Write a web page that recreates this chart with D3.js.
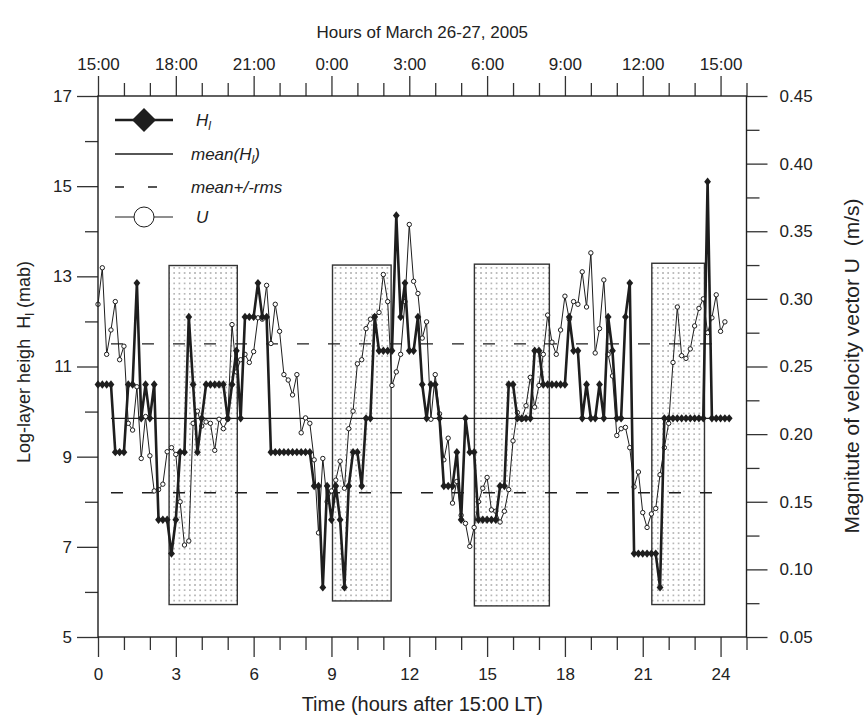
<!DOCTYPE html>
<html><head><meta charset="utf-8">
<script src="https://cdn.jsdelivr.net/npm/d3@7/dist/d3.min.js"></script>
<style>
body{margin:0;background:#fff;}
svg{display:block;}
text{font-family:"Liberation Sans",Arial,Helvetica,sans-serif;fill:#222;}
</style>
</head><body>
<svg id="chart" width="865" height="718"></svg>
<script>
// ---------- data ----------
const stepHours = 1/6;           // 10-minute sampling
const bottomTicks = [0,3,6,9,12,15,18,21,24];
const topTickLabels = ["15:00","18:00","21:00","0:00","3:00","6:00","9:00","12:00","15:00"];
const leftTicks = [5,7,9,11,13,15,17];
const rightTicks = [0.05,0.10,0.15,0.20,0.25,0.30,0.35,0.40,0.45];

// log-layer height H_l (mab), one value per 10 min
const H = [
10.6,10.6,10.6,10.6, 9.1,9.1,9.1, 10.6,10.6, 12.85, 9.85, 10.6, 9.85, 10.6,
7.6,7.6,7.6, 6.85, 7.6, 9.1,9.1, 12.1, 10.6, 9.1, 9.85,
10.6,10.6,10.6,10.6,10.6, 9.85, 10.6, 11.35, 9.85, 12.1,12.1,12.1, 12.85, 12.1,12.1,
9.1,9.1,9.1,9.1,9.1,9.1,9.1,9.1,9.1,9.1,
8.35,8.35, 6.1, 8.35, 7.6, 8.35, 7.6, 6.1, 8.35, 9.1,9.1, 8.35, 9.85,9.85,
12.1, 11.35,11.35,11.35,11.35, 14.35, 12.1, 12.85, 11.35,11.35, 12.1, 10.6, 9.85, 10.6,10.6, 9.85,
8.35,8.35,8.35, 9.1, 7.6, 9.85, 9.1,9.1, 7.6,7.6,7.6,7.6,7.6, 8.35,8.35, 10.6,10.6,
9.85,9.85,9.85,9.85, 11.35,11.35, 10.6,10.6,10.6,10.6,10.6,10.6, 12.1, 11.35,11.35,
9.85, 10.6, 9.85,9.85, 10.6, 9.85, 12.1, 11.35, 9.85,9.85, 12.1, 12.85,
6.85,6.85,6.85,6.85,6.85,6.85, 6.1,
9.85,9.85,9.85,9.85,9.85,9.85,9.85,9.85,9.85,9.85, 15.1, 9.85,9.85,9.85,9.85,9.85
];

// magnitude of velocity vector U (m/s), one value per 10 min
const U = [
0.296,0.323,0.259,0.277,0.298,0.255,0.265,0.208,0.203,0.235,0.182,0.213,0.184,
0.158,0.159,0.163,0.187,0.190,0.185,0.150,0.118,0.121,
0.208,0.217,0.206,0.209,0.208,0.188,0.211,0.204,0.211,
0.281,0.246,0.255,0.259,0.253,0.261,0.286,0.285,0.310,0.267,0.296,0.276,
0.244,0.240,0.229,0.244,0.201,0.212,0.208,0.181,0.127,0.182,0.150,0.158,0.166,0.180,0.160,
0.204,0.217,0.252,0.255,0.278,0.285,0.287,0.290,0.318,0.298,0.236,0.246,0.259,0.298,
0.355,0.313,0.304,0.271,0.283,0.211,0.244,0.215,0.181,0.197,
0.149,0.165,0.140,0.134,0.117,0.131,0.150,0.160,0.168,0.144,0.143,0.135,0.143,0.159,
0.195,0.216,0.211,0.221,0.242,0.220,0.236,0.259,0.288,0.268,0.259,0.277,0.302,0.285,
0.298,0.296,0.320,0.294,0.334,0.260,0.278,0.314,0.259,0.243,0.199,0.204,0.205,
0.190,0.161,0.172,0.142,0.131,0.141,0.145,0.170,0.190,0.208,0.253,0.294,0.258,0.256,
0.263,0.280,0.293,0.300,0.275,0.286,0.303,0.276,0.283
];

// shaded periods (hours, H_l units)
const boxStart  = [2.74, 9.04, 14.51, 21.35];
const boxEnd    = [5.37, 11.30, 17.40, 23.38];
const boxTop    = [13.24, 13.25, 13.27, 13.29];
const boxBottom = [5.72, 5.80, 5.69, 5.72];

const meanH = 9.85, rmsH = 1.65;
const refLineStart = 0.5, refLineEnd = 24;

// ---------- layout ----------
const L = 98, R = 746.5, T = 96, B = 637;
const svg = d3.select("#chart");
const x = d3.scaleLinear().domain([0,25]).range([L,R]);
const yL = d3.scaleLinear().domain([5,17]).range([B,T]);
const yR = d3.scaleLinear().domain([0.05,0.45]).range([B,T]);
const FS = 17;
const ink = "#1e1e1e";

// pattern for shaded boxes
const defs = svg.append("defs");
const pat = defs.append("pattern").attr("id","dots").attr("patternUnits","userSpaceOnUse")
  .attr("width",5.2).attr("height",5.2);
pat.append("rect").attr("width",5.2).attr("height",5.2).attr("fill","#fff");
pat.append("rect").attr("x",2).attr("y",2).attr("width",1.2).attr("height",1.2).attr("fill","#6a6a6a");

// boxes
svg.append("g").selectAll("rect").data(boxStart).join("rect")
  .attr("x",(d,i)=>x(boxStart[i]))
  .attr("y",(d,i)=>yL(boxTop[i]))
  .attr("width",(d,i)=>x(boxEnd[i])-x(boxStart[i]))
  .attr("height",(d,i)=>yL(boxBottom[i])-yL(boxTop[i]))
  .attr("fill","url(#dots)").attr("stroke","#333").attr("stroke-width",1.4);

// mean and +/- rms lines
const ref = svg.append("g");
ref.append("line").attr("x1",x(refLineStart)).attr("x2",x(refLineEnd))
  .attr("y1",yL(meanH)).attr("y2",yL(meanH)).attr("stroke",ink).attr("stroke-width",1.3);
[meanH+rmsH, meanH-rmsH].forEach(v=>{
  ref.append("line").attr("x1",x(refLineStart)).attr("x2",x(refLineEnd))
    .attr("y1",yL(v)).attr("y2",yL(v)).attr("stroke",ink).attr("stroke-width",1.3)
    .attr("stroke-dasharray","12,19");
});

// U series
const uLine = d3.line().x((d,i)=>x(i*stepHours)).y(d=>yR(d));
svg.append("path").datum(U).attr("d",uLine).attr("fill","none")
  .attr("stroke",ink).attr("stroke-width",1);
svg.append("g").selectAll("circle").data(U).join("circle")
  .attr("cx",(d,i)=>x(i*stepHours)).attr("cy",d=>yR(d)).attr("r",2.2)
  .attr("fill","#fff").attr("stroke",ink).attr("stroke-width",1);

// H series
const hLine = d3.line().x((d,i)=>x(i*stepHours)).y(d=>yL(d));
svg.append("path").datum(H).attr("d",hLine).attr("fill","none")
  .attr("stroke",ink).attr("stroke-width",2.6).attr("stroke-linejoin","round");
svg.append("g").selectAll("path").data(H).join("path")
  .attr("transform",(d,i)=>`translate(${x(i*stepHours)},${yL(d)})`)
  .attr("d","M0,-4.2L3.4,0L0,4.2L-3.4,0Z").attr("fill",ink);

// ---------- axes ----------
function styleAxis(g){
  g.select(".domain").remove();
  g.selectAll(".tick line").attr("stroke","#333").attr("stroke-width",1.3);
  g.selectAll(".tick text").attr("font-size",FS).attr("fill","#222")
    .attr("font-family",'"Liberation Sans",Arial,sans-serif');
}
const hourMinor = d3.range(0,26).filter(h=>!bottomTicks.includes(h));

svg.append("g").attr("transform",`translate(0,${B})`)
  .call(d3.axisBottom(x).tickValues(bottomTicks).tickSize(20).tickPadding(11).tickFormat(d3.format("d")))
  .call(styleAxis);
svg.append("g").attr("transform",`translate(0,${B})`)
  .call(d3.axisBottom(x).tickValues(hourMinor).tickSize(13).tickFormat(""))
  .call(styleAxis);

svg.append("g").attr("transform",`translate(0,${T})`)
  .call(d3.axisTop(x).tickValues(bottomTicks).tickSize(20).tickPadding(6)
    .tickFormat((d,i)=>topTickLabels[i]))
  .call(styleAxis);
svg.append("g").attr("transform",`translate(0,${T})`)
  .call(d3.axisTop(x).tickValues(hourMinor).tickSize(13).tickFormat(""))
  .call(styleAxis);

const leftMinor = d3.range(6,17,2);
svg.append("g").attr("transform",`translate(${L},0)`)
  .call(d3.axisLeft(yL).tickValues(leftTicks).tickSize(21).tickPadding(5).tickFormat(d3.format("d")))
  .call(styleAxis);
svg.append("g").attr("transform",`translate(${L},0)`)
  .call(d3.axisLeft(yL).tickValues(leftMinor).tickSize(13).tickFormat(""))
  .call(styleAxis);

const rightMinor = rightTicks.slice(0,-1).map(v=>v+0.025);
svg.append("g").attr("transform",`translate(${R},0)`)
  .call(d3.axisRight(yR).tickValues(rightTicks).tickSize(21).tickPadding(12).tickFormat(d3.format(".2f")))
  .call(styleAxis);
svg.append("g").attr("transform",`translate(${R},0)`)
  .call(d3.axisRight(yR).tickValues(rightMinor).tickSize(13).tickFormat(""))
  .call(styleAxis);

// frame
svg.append("rect").attr("x",L).attr("y",T).attr("width",R-L).attr("height",B-T)
  .attr("fill","none").attr("stroke",ink).attr("stroke-width",1.4);

// titles
svg.append("text").attr("x",(L+R)/2).attr("y",38).attr("text-anchor","middle")
  .attr("font-size",FS).text("Hours of March 26-27, 2005");
svg.append("text").attr("x",(L+R)/2).attr("y",711).attr("text-anchor","middle")
  .attr("font-size",20).text("Time (hours after 15:00 LT)");

const lt = svg.append("text").attr("transform","translate(30,362) rotate(-90)")
  .attr("text-anchor","middle").attr("font-size",18);
lt.append("tspan").text("Log-layer heigh\u00a0\u00a0H");
lt.append("tspan").attr("font-size",12.5).attr("dy",4).text("l");
lt.append("tspan").attr("dy",-4).text(" (mab)");

svg.append("text").attr("transform","translate(859,366) rotate(-90)")
  .attr("text-anchor","middle").attr("font-size",21)
  .text("Magnitute of velocity vector U\u00a0\u00a0(m/s)");

// ---------- legend ----------
const lg = svg.append("g");
const lx1 = 115, lx2 = 173, lcx = 144;
// H_l
lg.append("line").attr("x1",lx1).attr("x2",lx2).attr("y1",120).attr("y2",120)
  .attr("stroke",ink).attr("stroke-width",2.6);
lg.append("path").attr("transform",`translate(${lcx},120)`).attr("d","M0,-12L12,0L0,12L-12,0Z").attr("fill",ink);
const t1 = lg.append("text").attr("x",196).attr("y",126).attr("font-size",FS).attr("font-style","italic");
t1.append("tspan").text("H");
t1.append("tspan").attr("font-size",12).attr("dy",4).text("l");
// mean
lg.append("line").attr("x1",lx1).attr("x2",lx2).attr("y1",154).attr("y2",154)
  .attr("stroke",ink).attr("stroke-width",1.3);
const t2 = lg.append("text").attr("x",191).attr("y",160).attr("font-size",FS).attr("font-style","italic");
t2.append("tspan").text("mean(H");
t2.append("tspan").attr("font-size",12).attr("dy",4).text("l");
t2.append("tspan").attr("dy",-4).text(")");
// rms
lg.append("line").attr("x1",lx1).attr("x2",lx2).attr("y1",187).attr("y2",187)
  .attr("stroke",ink).attr("stroke-width",1.3).attr("stroke-dasharray","9,24");
lg.append("text").attr("x",191).attr("y",193).attr("font-size",FS).attr("font-style","italic").text("mean+/-rms");
// U
lg.append("line").attr("x1",lx1).attr("x2",lx2).attr("y1",217).attr("y2",217)
  .attr("stroke",ink).attr("stroke-width",1);
lg.append("circle").attr("cx",lcx).attr("cy",217).attr("r",10).attr("fill","#fff")
  .attr("stroke",ink).attr("stroke-width",1);
lg.append("text").attr("x",196).attr("y",223).attr("font-size",FS).attr("font-style","italic").text("U");
</script>
</body></html>
